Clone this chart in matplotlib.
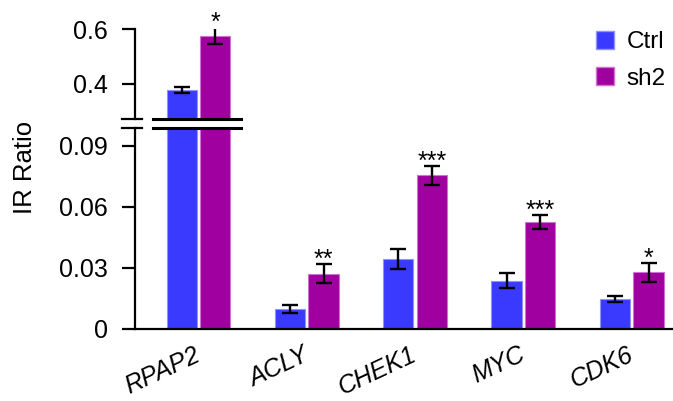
import numpy as np
import matplotlib
matplotlib.use('Agg')
import matplotlib.pyplot as plt
from matplotlib.patches import Patch
from matplotlib.transforms import ScaledTranslation

plt.rcParams['font.family'] = ['Liberation Sans', 'DejaVu Sans']

genes = ['RPAP2', 'ACLY', 'CHEK1', 'MYC', 'CDK6']
ctrl = [0.378, 0.0098, 0.0344, 0.0238, 0.0147]
ctrl_err = [0.012, 0.0021, 0.0049, 0.0036, 0.0015]
sh2 = [0.577, 0.0272, 0.0755, 0.0526, 0.0278]
sh2_err = [0.032, 0.0047, 0.0047, 0.0034, 0.0047]
stars = ['*', '**', '***', '***', '*']

C_CTRL = '#3a3aff'
C_SH2 = '#a000a0'

W, H = 673, 401
fig = plt.figure(figsize=(W / 100, H / 100), dpi=100)


def px_axes(x0, y_top, x1, y_bot):
    return fig.add_axes([x0 / W, 1 - y_bot / H, (x1 - x0) / W, (y_bot - y_top) / H])


ax_lo = px_axes(135, 128, 673, 329)
ax_hi = px_axes(135, 29.3, 673, 119)

x = np.arange(len(genes))
bw, off = 0.28, 0.155
for ax in (ax_lo, ax_hi):
    ax.bar(x - off, ctrl, bw, color=C_CTRL, edgecolor='#9090ff', linewidth=0.8,
           yerr=ctrl_err, capsize=6, error_kw=dict(elinewidth=1.7, capthick=1.7))
    ax.bar(x + off, sh2, bw, color=C_SH2, edgecolor='#d070d0', linewidth=0.8,
           yerr=sh2_err, capsize=6, error_kw=dict(elinewidth=1.7, capthick=1.7))
    ax.set_xlim(-0.586, 4.381)
    for s in ('top', 'right'):
        ax.spines[s].set_visible(False)
    ax.spines['left'].set_linewidth(1.6)
    ax.tick_params(axis='y', direction='out', length=9.5, width=1.6, labelsize=18, pad=10)

ax_lo.set_ylim(0, 0.0987)
ax_lo.set_yticks([0, 0.03, 0.06, 0.09])
ax_lo.set_yticklabels(['0', '0.03', '0.06', '0.09'])
ax_lo.spines['bottom'].set_linewidth(1.6)
ax_lo.tick_params(axis='x', length=0, pad=0)
ax_lo.set_xticks(x)
ax_lo.set_xticklabels(genes, rotation=25, ha='right', va='baseline', rotation_mode='anchor',
                      fontsize=18, style='italic')
shift = ScaledTranslation(3 / 100, -31 / 100, fig.dpi_scale_trans)
for lab in ax_lo.get_xticklabels():
    lab.set_transform(lab.get_transform() + shift)

ax_hi.set_ylim(0.272, 0.6)
ax_hi.set_yticks([0.4, 0.6])
ax_hi.set_yticklabels(['0.4', '0.6'])
ax_hi.spines['bottom'].set_visible(False)
ax_hi.set_xticks([])

# significance stars above sh2 bars
for i, (v, e, s) in enumerate(zip(sh2, sh2_err, stars)):
    ax = ax_hi if i == 0 else ax_lo
    ax.annotate(s, (x[i] + off, v + e), xytext=(0, 3), textcoords='offset points',
                ha='center', va='center', fontsize=18, annotation_clip=False)

# axis break marks
for ax, yy in ((ax_hi, 0.0), (ax_lo, 1.0)):
    ax.plot([-0.025, 0.013], [yy, yy], transform=ax.transAxes, color='black', lw=1.6, clip_on=False)
    ax.plot([x[0] - 0.42, x[0] + 0.39], [yy, yy], transform=ax.get_xaxis_transform(),
            color='black', lw=2.2, clip_on=False)

ax_lo.set_ylabel('IR Ratio', fontsize=18.5)
ax_lo.yaxis.set_label_coords(-0.182, 0.806)

handles = [Patch(facecolor=C_CTRL, edgecolor='#9090ff'), Patch(facecolor=C_SH2, edgecolor='#d070d0')]
fig.legend(handles, ['Ctrl', 'sh2'], loc='upper left', bbox_to_anchor=(574 / W, 1 - 9 / H),
           frameon=False, fontsize=17.5, handlelength=0.76, handleheight=0.76,
           handletextpad=0.5, labelspacing=0.58)

fig.savefig('out.png', dpi=100)
